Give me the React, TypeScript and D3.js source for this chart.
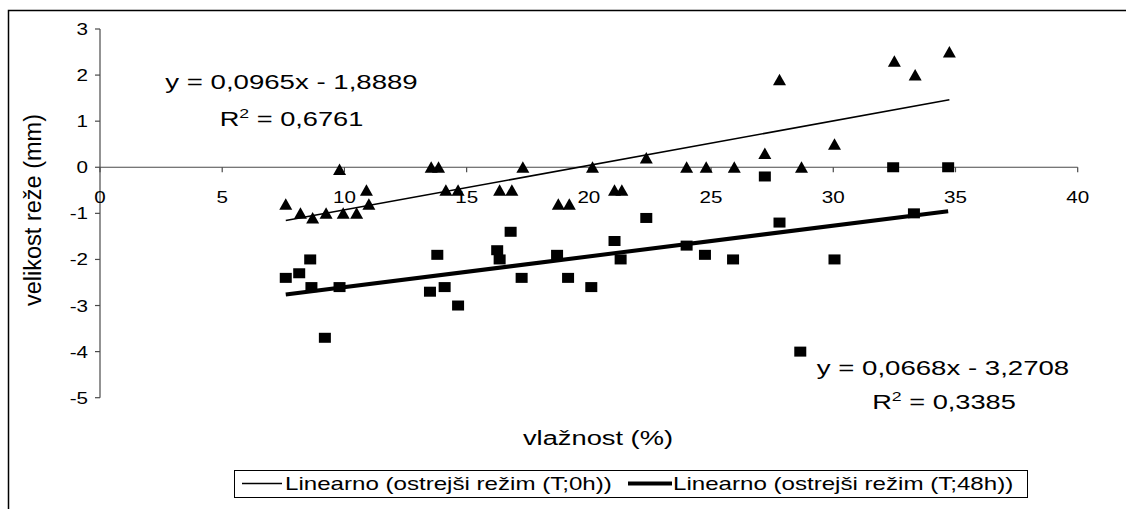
import React from "react";
import * as d3 from "d3";

// Moisture content (%) and gap size (mm), harsher regime, measured at T;0h
const humidity0h = [
  7.6, 8.2, 8.7, 9.25, 9.8, 9.95, 10.5, 10.9, 11.0, 13.55, 13.85, 14.15, 14.65,
  16.35, 16.85, 17.3, 18.75, 19.2, 20.15, 21.05, 21.35, 22.35, 24.0, 24.8, 25.95,
  27.2, 27.8, 28.7, 30.05, 32.5, 33.35, 34.75,
];
const gap0h = [
  -0.8, -1.0, -1.1, -1.0, -0.05, -1.0, -1.0, -0.5, -0.8, 0, 0, -0.5, -0.5,
  -0.5, -0.5, 0, -0.8, -0.8, 0, -0.5, -0.5, 0.2, 0, 0, 0,
  0.3, 1.9, 0, 0.5, 2.3, 2.0, 2.5,
];

// Same regime, measured at T;48h
const humidity48h = [
  7.6, 8.15, 8.6, 8.65, 9.2, 9.8, 13.5, 13.8, 14.1, 14.65, 16.25, 16.35, 16.8,
  17.25, 18.7, 19.15, 20.1, 21.05, 21.3, 22.35, 24.0, 24.75, 25.9, 27.2, 27.8,
  28.65, 30.05, 32.45, 33.3, 34.7,
];
const gap48h = [
  -2.4, -2.3, -2.0, -2.6, -3.7, -2.6, -2.7, -1.9, -2.6, -3.0, -1.8, -2.0, -1.4,
  -2.4, -1.9, -2.4, -2.6, -1.6, -2.0, -1.1, -1.7, -1.9, -2.0, -0.2, -1.2,
  -4.0, -2.0, 0, -1.0, 0,
];

// Linear trend coefficients [slope, intercept, R²]
const trend0h = [0.0965, -1.8889, 0.6761];
const trend48h = [0.0668, -3.2708, 0.3385];

const xTicks = [0, 5, 10, 15, 20, 25, 30, 35, 40];
const yTicks = [3, 2, 1, 0, -1, -2, -3, -4, -5];

const legendLabels = [
  "Linearno (ostrejši režim (T;0h))",
  "Linearno (ostrejši režim (T;48h))",
];
const xTitle = "vlažnost (%)";
const yTitle = "velikost reže (mm)";

const W = 1126;
const H = 509;
const FONT = "'Liberation Sans', Arial, sans-serif";

const fmt = (v: number, digits: number) => v.toFixed(digits).replace(".", ",");

function StretchText({
  x,
  y,
  size,
  sx = 1.32,
  anchor = "start",
  children,
}: {
  x: number;
  y: number;
  size: number;
  sx?: number;
  anchor?: string;
  children: React.ReactNode;
}) {
  return (
    <text
      transform={`translate(${x},${y}) scale(${sx},1)`}
      fontSize={size}
      fontFamily={FONT}
      textAnchor={anchor as any}
      fill="#000"
    >
      {children}
    </text>
  );
}

export default function App() {
  const x = d3.scaleLinear().domain([0, 40]).range([100, 1077.7]);
  const y = d3.scaleLinear().domain([-5, 3]).range([397.7, 29]);

  const pts0 = humidity0h.map((h, i) => [h, gap0h[i]]);
  const pts48 = humidity48h.map((h, i) => [h, gap48h[i]]);

  const trendLine = (xs: number[], c: number[]) => {
    const [lo, hi] = d3.extent(xs) as [number, number];
    const line = d3
      .line<number>()
      .x((v) => x(v))
      .y((v) => y(c[0] * v + c[1]));
    return line([lo, hi]) || "";
  };

  const tri = (cx: number, cy: number) =>
    `M${cx},${cy - 6}L${cx + 6.5},${cy + 5.5}L${cx - 6.5},${cy + 5.5}Z`;

  const axisColor = "#4a4a4a";

  return (
    <svg
      width={W}
      height={H}
      style={{ position: "absolute", left: 0, top: 0, background: "#fff" }}
    >
      <rect x={0} y={0} width={W} height={H} fill="#fff" />
      {/* chart frame */}
      <rect x={8.5} y={10.5} width={1400} height={700} fill="none" stroke="#000" strokeWidth={1.5} />

      {/* y axis */}
      <line x1={x(0)} x2={x(0)} y1={y(3)} y2={y(-5)} stroke={axisColor} strokeWidth={1.2} />
      {yTicks.map((t) => (
        <g key={`yt${t}`}>
          <line x1={x(0) - 5} x2={x(0)} y1={y(t)} y2={y(t)} stroke={axisColor} strokeWidth={1.2} />
          <StretchText x={88} y={y(t) + 6} size={16.5} sx={1.25} anchor="end">
            {t < 0 ? `-${Math.abs(t)}` : `${t}`}
          </StretchText>
        </g>
      ))}

      {/* x axis on y = 0 */}
      <line x1={x(0)} x2={x(40)} y1={y(0)} y2={y(0)} stroke={axisColor} strokeWidth={1.2} />
      {xTicks.map((t) => (
        <g key={`xt${t}`}>
          <line x1={x(t)} x2={x(t)} y1={y(0)} y2={y(0) + 5} stroke={axisColor} strokeWidth={1.2} />
          <StretchText x={x(t)} y={202.5} size={16.5} sx={1.25} anchor="middle">
            {t}
          </StretchText>
        </g>
      ))}

      {/* trend lines */}
      <path d={trendLine(humidity0h, trend0h)} stroke="#000" strokeWidth={1.6} fill="none" />
      <path d={trendLine(humidity48h, trend48h)} stroke="#000" strokeWidth={4} fill="none" />

      {/* T;0h points */}
      {pts0.map(([h, g], i) => (
        <path key={`p0${i}`} d={tri(x(h), y(g))} fill="#000" />
      ))}
      {/* T;48h points */}
      {pts48.map(([h, g], i) => (
        <rect key={`p48${i}`} x={x(h) - 6} y={y(g) - 5} width={12} height={10} fill="#000" />
      ))}

      {/* regression equations */}
      <StretchText x={291.5} y={89} size={20} sx={1.38} anchor="middle">
        {`y = ${fmt(trend0h[0], 4)}x - ${fmt(Math.abs(trend0h[1]), 4)}`}
      </StretchText>
      <StretchText x={291.5} y={126} size={20} sx={1.36} anchor="middle">
        R<tspan fontSize={13} dy={-8}>2</tspan>
        <tspan dy={8}>{` = ${fmt(trend0h[2], 4)}`}</tspan>
      </StretchText>
      <StretchText x={943} y={375} size={20} sx={1.38} anchor="middle">
        {`y = ${fmt(trend48h[0], 4)}x - ${fmt(Math.abs(trend48h[1]), 4)}`}
      </StretchText>
      <StretchText x={944} y={409} size={20} sx={1.36} anchor="middle">
        R<tspan fontSize={13} dy={-8}>2</tspan>
        <tspan dy={8}>{` = ${fmt(trend48h[2], 4)}`}</tspan>
      </StretchText>

      {/* axis titles */}
      <StretchText x={598} y={445} size={21} sx={1.3} anchor="middle">
        {xTitle}
      </StretchText>
      <text
        transform={`translate(41,210) rotate(-90)`}
        fontSize={23.5}
        fontFamily={FONT}
        textAnchor="middle"
        fill="#000"
      >
        {yTitle}
      </text>

      {/* legend */}
      <rect x={234.5} y={470.5} width={793} height={27} fill="#fff" stroke="#000" strokeWidth={1} />
      <line x1={242} x2={282} y1={483.5} y2={483.5} stroke="#000" strokeWidth={1.4} />
      <StretchText x={285} y={490} size={18} sx={1.34}>
        {legendLabels[0]}
      </StretchText>
      <line x1={628} x2={672} y1={483.5} y2={483.5} stroke="#000" strokeWidth={4} />
      <StretchText x={673} y={490} size={18} sx={1.34}>
        {legendLabels[1]}
      </StretchText>
    </svg>
  );
}
